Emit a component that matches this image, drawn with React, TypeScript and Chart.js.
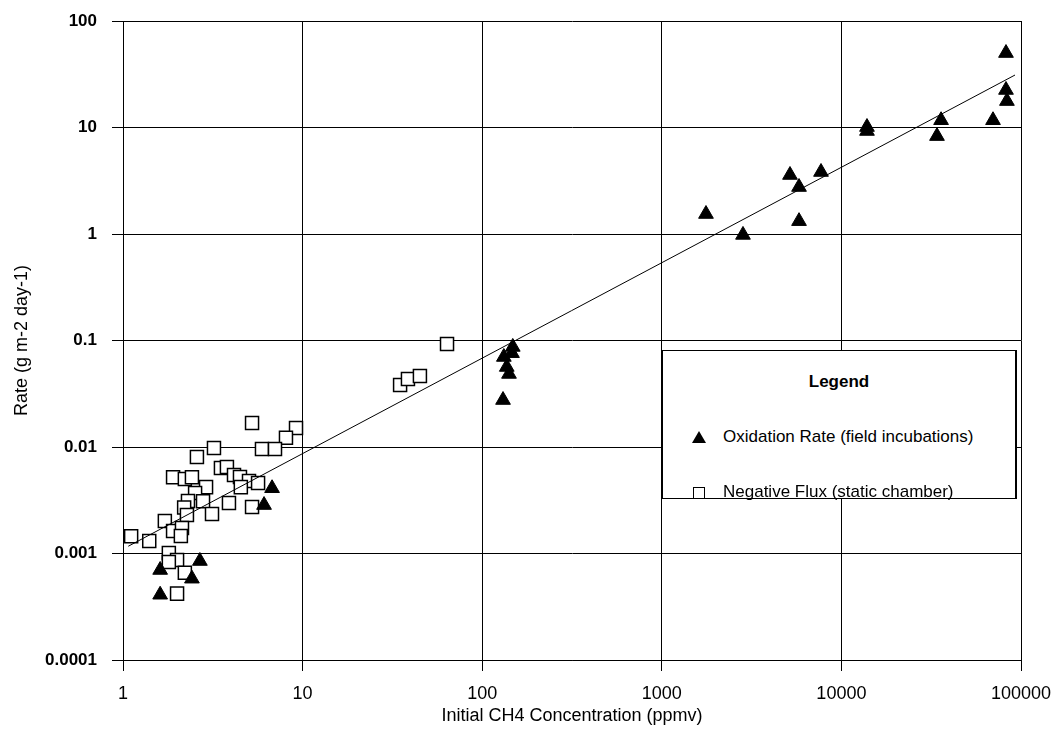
import React, { useEffect, useRef } from "react";
import { Chart, registerables } from "chart.js";

Chart.register(...registerables);

// ---- Data ----
const xTickValues = [1, 10, 100, 1000, 10000, 100000];
const xTickLabels = ["1", "10", "100", "1000", "10000", "100000"];
const yTickValues = [0.0001, 0.001, 0.01, 0.1, 1, 10, 100];
const yTickLabels = ["0.0001", "0.001", "0.01", "0.1", "1", "10", "100"];

// Oxidation Rate (field incubations)
const oxidationX = [
  1.61, 1.61, 2.68, 2.42, 6.76, 6.1,
  148, 132, 146.5, 137, 141, 130.6,
  1762, 2832, 5173, 5808, 5808, 7700, 13880, 13880, 34060, 35890, 69850, 82500, 82500, 83500,
];
const oxidationY = [
  0.0007, 0.00041, 0.00085, 0.00058, 0.0041, 0.00285,
  0.087, 0.07, 0.076, 0.0564, 0.0485, 0.0276,
  1.54, 0.98, 3.58, 2.76, 1.32, 3.82, 10.1, 9.27, 8.3, 11.7, 11.7, 50, 22.5, 17.7,
];

// Negative Flux (static chamber)
const fluxX = [
  5.23, 9.19, 8.08, 3.21, 5.94, 7.02, 2.58, 3.51, 3.79, 4.15,
  4.48, 1.9, 2.21, 2.42, 5.03, 5.65, 4.53, 2.9, 2.52, 2.3,
  2.79, 3.89, 5.23, 3.13, 2.19, 2.27, 1.71, 1.9, 2.13, 2.1,
  1.11, 1.4, 1.8, 2.0, 1.8, 2.21, 2.0,
  63.7, 34.9, 38.6, 45.0,
];
const fluxY = [
  0.0168, 0.0151, 0.0122, 0.0098, 0.0096, 0.0096, 0.00805, 0.00635, 0.0065, 0.00546,
  0.00523, 0.0052, 0.005, 0.0052, 0.0048, 0.0046, 0.0042, 0.0042, 0.0037, 0.00311,
  0.0031, 0.00298, 0.00273, 0.00235, 0.0027, 0.0023, 0.00202, 0.00163, 0.00174, 0.00146,
  0.00145, 0.00131, 0.00101, 0.00087, 0.00083, 0.00066, 0.00042,
  0.0927, 0.0382, 0.0435, 0.0464,
];

// Power-law trend line end points
const trendX = [1.07, 92600];
const trendY = [0.00117, 31.1];

const FONT = "'Liberation Sans', Arial, Helvetica, sans-serif";

const toPoints = (xs: number[], ys: number[]) => xs.map((x, i) => ({ x, y: ys[i] }));

export default function App() {
  const canvasRef = useRef<HTMLCanvasElement | null>(null);

  useEffect(() => {
    const canvas = canvasRef.current;
    if (!canvas) return;
    const chart = new Chart(canvas, {
      type: "scatter",
      data: {
        datasets: [
          {
            type: "line",
            label: "Trend",
            data: toPoints(trendX, trendY),
            borderColor: "#000",
            borderWidth: 1,
            pointRadius: 0,
            fill: false,
            tension: 0,
          },
          {
            label: "Oxidation Rate (field incubations)",
            data: toPoints(oxidationX, oxidationY),
            pointStyle: "triangle",
            pointRadius: 8.5,
            backgroundColor: "#000",
            borderColor: "#000",
            borderWidth: 1,
          },
          {
            label: "Negative Flux (static chamber)",
            data: toPoints(fluxX, fluxY),
            pointStyle: "rect",
            pointRadius: 9.2,
            backgroundColor: "#fff",
            borderColor: "#000",
            borderWidth: 1.5,
          },
        ],
      },
      options: {
        responsive: false,
        animation: false,
        layout: { padding: { left: 0, top: 21, right: 34, bottom: 0 } },
        plugins: {
          legend: { display: false },
          tooltip: { enabled: false },
        },
        scales: {
          x: {
            type: "logarithmic",
            min: 1,
            max: 100000,
            afterFit: (s: any) => {
              s.height = 87;
              s.paddingLeft = 0;
              s.paddingRight = 0;
            },
            afterBuildTicks: (s: any) => {
              s.ticks = xTickValues.map((v) => ({ value: v }));
            },
            ticks: {
              autoSkip: false,
              maxRotation: 0,
              padding: 12,
              color: "#000",
              font: { family: FONT, size: 18 },
              callback: (v: any) => {
                const i = xTickValues.indexOf(Number(v));
                return i >= 0 ? xTickLabels[i] : "";
              },
            },
            grid: { color: "#000", lineWidth: 1, tickLength: 11, drawTicks: true },
            border: { display: true, color: "#000", width: 1 },
            title: {
              display: true,
              text: "Initial CH4 Concentration (ppmv)",
              color: "#000",
              font: { family: FONT, size: 18 },
              padding: { top: 0, bottom: 20 },
            },
          },
          y: {
            type: "logarithmic",
            min: 0.0001,
            max: 100,
            afterFit: (s: any) => {
              s.width = 123;
              s.paddingTop = 0;
              s.paddingBottom = 0;
            },
            afterBuildTicks: (s: any) => {
              s.ticks = yTickValues.map((v) => ({ value: v }));
            },
            ticks: {
              autoSkip: false,
              padding: 15,
              color: "#000",
              font: { family: FONT, size: 17, weight: "bold" },
              callback: (v: any) => {
                const n = Number(v);
                const i = yTickValues.findIndex((t) => Math.abs(t - n) / t < 1e-6);
                return i >= 0 ? yTickLabels[i] : "";
              },
            },
            grid: { color: "#000", lineWidth: 1, tickLength: 11, drawTicks: true },
            border: { display: true, color: "#000", width: 1 },
            title: {
              display: true,
              text: "Rate (g m-2 day-1)",
              color: "#000",
              font: { family: FONT, size: 18 },
              padding: { top: 11, bottom: 0 },
            },
          },
        },
      },
    } as any);
    return () => chart.destroy();
  }, []);

  return (
    <div style={{ position: "fixed", left: 0, top: 0, width: 1055, height: 747, background: "#fff" }}>
      <canvas ref={canvasRef} width={1055} height={747} style={{ position: "absolute", left: 0, top: 0 }} />
      <div
        style={{
          position: "absolute",
          left: 662,
          top: 350,
          width: 355,
          height: 149,
          boxSizing: "border-box",
          border: "1px solid #000",
          borderRight: "2px solid #000",
          background: "#fff",
          fontFamily: FONT,
          color: "#000",
        }}
      >
        <div
          style={{
            position: "absolute",
            left: 0,
            right: 0,
            top: 21,
            textAlign: "center",
            fontWeight: "bold",
            fontSize: 17,
            lineHeight: "20px",
          }}
        >
          Legend
        </div>
        <div
          style={{
            position: "absolute",
            left: 29,
            top: 80,
            width: 0,
            height: 0,
            borderLeft: "7px solid transparent",
            borderRight: "7px solid transparent",
            borderBottom: "12px solid #000",
          }}
        />
        <div style={{ position: "absolute", left: 60, top: 76, fontSize: 17, lineHeight: "20px", whiteSpace: "nowrap" }}>
          Oxidation Rate (field incubations)
        </div>
        <div
          style={{
            position: "absolute",
            left: 30,
            top: 136,
            width: 12,
            height: 12,
            boxSizing: "border-box",
            border: "1.5px solid #000",
            background: "#fff",
          }}
        />
        <div style={{ position: "absolute", left: 60, top: 131, fontSize: 17, lineHeight: "20px", whiteSpace: "nowrap" }}>
          Negative Flux (static chamber)
        </div>
      </div>
    </div>
  );
}
